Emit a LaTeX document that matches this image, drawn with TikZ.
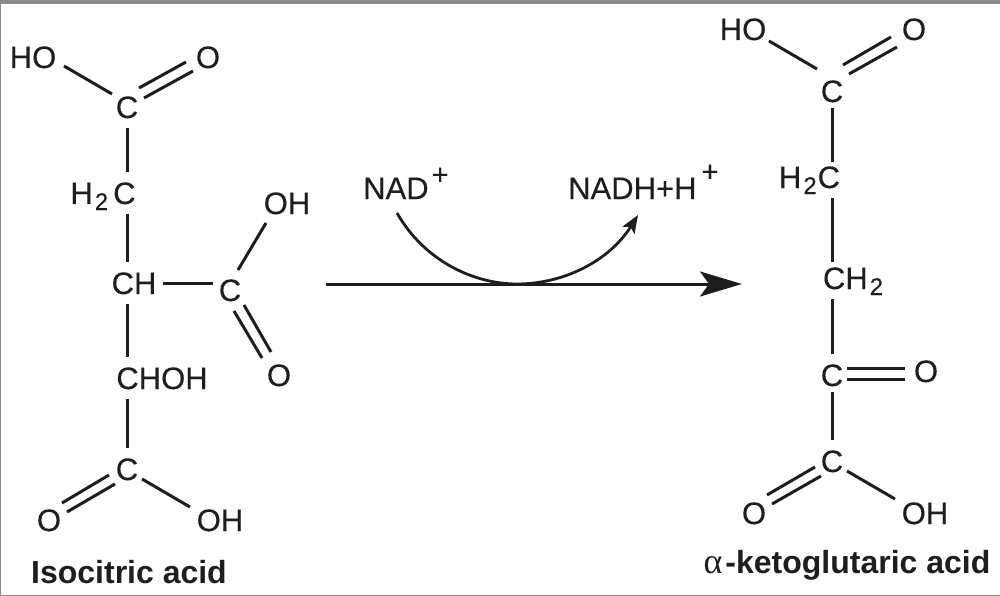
\documentclass[tikz,border=0pt]{standalone}
\usepackage{fontspec}
\setmainfont{Liberation Sans}
\newfontfamily\atomfont[FakeBold=0.25]{Liberation Sans}
\newfontfamily\alphafont{Liberation Serif}
\usetikzlibrary{arrows.meta}
\definecolor{ink}{HTML}{1E1E1E}
\definecolor{frame}{HTML}{8A8A90}
\newcommand{\subtwo}{\raisebox{-6pt}{\fontsize{24}{24}\selectfont 2}}
\newcommand{\suppl}[1]{\raisebox{#1}{\fontsize{29}{29}\selectfont +}}
\tikzset{
  atom/.style={inner xsep=6pt,inner ysep=10pt,text height=22pt,text depth=0pt,text=ink,
    font=\fontsize{31}{36}\selectfont\atomfont},
  label/.style={inner sep=0pt,text=ink,font=\fontsize{32}{36}\selectfont\bfseries},
  bond/.style={draw=ink,line width=3pt},
  mainarrow/.style={draw=ink,line width=3pt,-{Stealth[length=42pt,width=25pt,inset=9pt]}},
  cofactor/.style={draw=ink,line width=2.8pt,-{Stealth[length=18pt,width=14pt,inset=4pt]}}
}
\begin{document}
\begin{tikzpicture}[x=1pt,y=-1pt]
\useasboundingbox (0,0) rectangle (1000,596);
\fill[white] (0,0) rectangle (1000,596);
\fill[frame] (0,0) rectangle (1000,4.5);
\fill[frame] (0,0) rectangle (1,596);
\fill[frame] (0,595) rectangle (1000,596);
% Isocitric acid
\node[atom] (ho1) at (33,57) {HO};
\node[atom] (o1) at (208,57) {O};
\node[atom] (c1) at (127,107) {C};
\node[atom] (h2c1) at (103,193) {H\kern2pt\subtwo\kern5pt C};
\node[atom] (ch) at (134,283) {CH};
\node[atom] (c2) at (230,290) {C};
\node[atom] (oh2) at (287,203) {OH};
\node[atom] (choh) at (162,378) {CHOH};
\node[atom] (o2) at (279,375) {O};
\node[atom] (c3) at (127,469) {C};
\node[atom] (o3) at (49,520) {O};
\node[atom] (oh3) at (220,520) {OH};
\node[label] (iso) at (129,572) {Isocitric acid};
\draw[bond] ([shift={(-15,-13)}]c1.center) -- ([shift={(31,9)}]ho1.center);
\draw[bond] ([shift={(12,-19)}]c1.center) -- ([shift={(-22,5)}]o1.center);
\draw[bond] ([shift={(17,-9)}]c1.center) -- ([shift={(-15,14)}]o1.center);
\draw[bond] (c1.south) -- (c1 |- h2c1.north);
\draw[bond] (c1 |- h2c1.south) -- (c1 |- ch.north);
\draw[bond] (ch.east) -- (ch.east -| c2.west);
\draw[bond] ([shift={(8,-20)}]c2.center) -- ([shift={(-21,20)}]oh2.center);
\draw[bond] ([shift={(4,21)}]c2.center) -- ([shift={(-17,-17)}]o2.center);
\draw[bond] ([shift={(14,15)}]c2.center) -- ([shift={(-8,-23)}]o2.center);
\draw[bond] (c1 |- ch.south) -- (c1 |- choh.north);
\draw[bond] (c1 |- choh.south) -- (c3.north);
\draw[bond] ([shift={(-18,6)}]c3.center) -- ([shift={(13,-17)}]o3.center);
\draw[bond] ([shift={(-12,15)}]c3.center) -- ([shift={(18,-8)}]o3.center);
\draw[bond] ([shift={(15,10)}]c3.center) -- ([shift={(-30,-13)}]oh3.center);
% alpha-ketoglutaric acid
\node[atom] (ho4) at (743,29) {HO};
\node[atom] (o4) at (914,29) {O};
\node[atom] (c4) at (832,91) {C};
\node[atom] (h2c2) at (809.5,177) {H\kern2pt\subtwo\kern1pt C};
\node[atom] (ch2) at (853,278) {CH\kern2pt\subtwo};
\node[atom] (c5) at (832,375) {C};
\node[atom] (o5) at (926,371) {O};
\node[atom] (c6) at (832,461) {C};
\node[atom] (o6) at (754,513) {O};
\node[atom] (oh6) at (925,513) {OH};
\node[label] (akg) at (847,565.5) {{\alphafont\mdseries\fontsize{36}{36}\selectfont α}\kern3pt -ketoglutaric acid};
\draw[bond] ([shift={(-15,-22)}]c4.center) -- ([shift={(26,12)}]ho4.center);
\draw[bond] ([shift={(11,-26)}]c4.center) -- ([shift={(-23,8)}]o4.center);
\draw[bond] ([shift={(17,-17)}]c4.center) -- ([shift={(-17,18)}]o4.center);
\draw[bond,shorten <=-4pt,shorten >=-6pt] (c4.south) -- (c4 |- h2c2.north);
\draw[bond,shorten >=-5pt] (c4 |- h2c2.south) -- (c4 |- ch2.north);
\draw[bond] (c4 |- ch2.south) -- (c5.north);
\draw[bond] ([shift={(15,-7)}]c5.center) -- ([shift={(-21,-3)}]o5.center);
\draw[bond] ([shift={(15,4)}]c5.center) -- ([shift={(-21,8)}]o5.center);
\draw[bond,shorten <=-4pt] (c5.south) -- (c6.north);
\draw[bond] ([shift={(-17,6)}]c6.center) -- ([shift={(13,-18)}]o6.center);
\draw[bond] ([shift={(-11,15)}]c6.center) -- ([shift={(18,-9)}]o6.center);
\draw[bond] ([shift={(15,10)}]c6.center) -- ([shift={(-30,-14)}]oh6.center);
% reaction
\coordinate (rstart) at (326,284);
\coordinate (rend) at (742,284);
\draw[mainarrow] (rstart) -- (rend);
\node[atom,anchor=base west] (nad) at (357,199) {NAD\kern3pt\suppl{14.5pt}};
\node[atom,anchor=base west] (nadh) at (562,199) {NADH+H\kern5pt\suppl{17.5pt}};
\draw[cofactor] ([shift={(40,14)}]nad.base west) .. controls (425,262) and (475,284) .. (517,284) .. controls (565,284) and (610,260) .. ([shift={(76,16)}]nadh.base west);
\end{tikzpicture}
\end{document}
